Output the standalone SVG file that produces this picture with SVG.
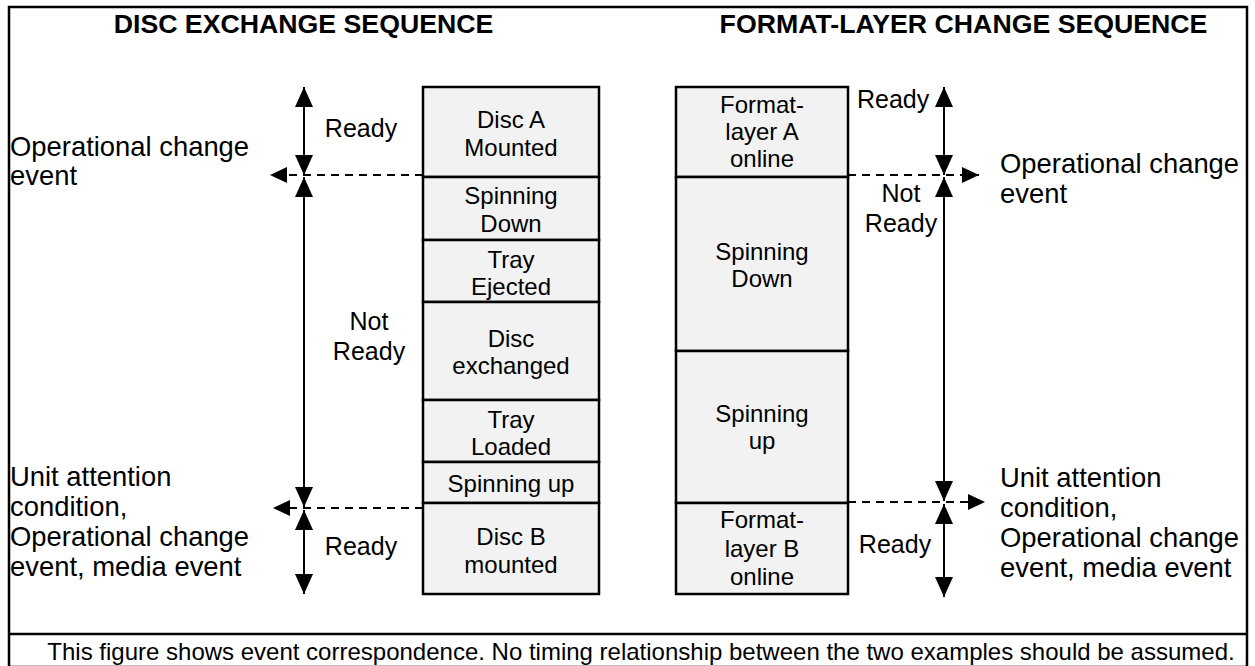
<svg xmlns="http://www.w3.org/2000/svg" width="1255" height="666" viewBox="0 0 1255 666">
<style>
text{font-family:"Liberation Sans",Arial,sans-serif;font-size:24px;fill:#000}
.title{font-weight:bold;font-size:26.7px;text-anchor:middle}
.c{text-anchor:middle}
.lbl{font-size:25px}
.side{font-size:27.4px}
.box{fill:#f2f2f2;stroke:#000;stroke-width:2.5}
.arr{stroke:#000;stroke-width:2;fill:none;marker-start:url(#ah);marker-end:url(#ah)}
.dash{stroke:#000;stroke-width:1.8;fill:none;stroke-dasharray:8 6;marker-end:url(#ah2)}
.frame{fill:none;stroke:#000;stroke-width:2.5}
</style>
<defs>
<marker id="ah" markerUnits="userSpaceOnUse" markerWidth="20" markerHeight="18" refX="20" refY="9" orient="auto-start-reverse" viewBox="0 0 20 18"><path d="M0,0 L20,9 L0,18 z" fill="#000"/></marker>
<marker id="ah2" markerUnits="userSpaceOnUse" markerWidth="17" markerHeight="16" refX="17" refY="8" orient="auto" viewBox="0 0 17 16"><path d="M0,0 L17,8 L0,16 z" fill="#000"/></marker>
</defs>
<rect class="frame" x="9" y="7" width="1238" height="660"/>
<line x1="9" y1="634" x2="1247" y2="634" stroke="#000" stroke-width="2.5"/>
<text class="title" x="303.5" y="33">DISC EXCHANGE SEQUENCE</text>
<text class="title" x="963.5" y="33">FORMAT-LAYER CHANGE SEQUENCE</text>
<g id="left-column">
<g id="disc-a-mounted"><rect class="box" x="423" y="87" width="176" height="90"/><text class="c" x="511" y="128">Disc A</text><text class="c" x="511" y="156">Mounted</text></g>
<g id="l-spinning-down"><rect class="box" x="423" y="177" width="176" height="63"/><text class="c" x="511" y="204">Spinning</text><text class="c" x="511" y="232">Down</text></g>
<g id="tray-ejected"><rect class="box" x="423" y="240" width="176" height="62"/><text class="c" x="511" y="268">Tray</text><text class="c" x="511" y="295">Ejected</text></g>
<g id="disc-exchanged"><rect class="box" x="423" y="302" width="176" height="98"/><text class="c" x="511" y="347">Disc</text><text class="c" x="511" y="374">exchanged</text></g>
<g id="tray-loaded"><rect class="box" x="423" y="400" width="176" height="62"/><text class="c" x="511" y="428">Tray</text><text class="c" x="511" y="455">Loaded</text></g>
<g id="l-spinning-up"><rect class="box" x="423" y="462" width="176" height="41"/><text class="c" x="511" y="492">Spinning up</text></g>
<g id="disc-b-mounted"><rect class="box" x="423" y="503" width="176" height="91"/><text class="c" x="511" y="545">Disc B</text><text class="c" x="511" y="573">mounted</text></g>
</g>
<g id="right-column">
<g id="format-layer-a"><rect class="box" x="676" y="87" width="172" height="90"/><text class="c" x="762" y="113">Format-</text><text class="c" x="762" y="140">layer A</text><text class="c" x="762" y="167">online</text></g>
<g id="r-spinning-down"><rect class="box" x="676" y="177" width="172" height="174"/><text class="c" x="762" y="260">Spinning</text><text class="c" x="762" y="287">Down</text></g>
<g id="r-spinning-up"><rect class="box" x="676" y="351" width="172" height="152"/><text class="c" x="762" y="422">Spinning</text><text class="c" x="762" y="449">up</text></g>
<g id="format-layer-b"><rect class="box" x="676" y="503" width="172" height="91"/><text class="c" x="762" y="528">Format-</text><text class="c" x="762" y="557">layer B</text><text class="c" x="762" y="585">online</text></g>
</g>
<g id="labels">
<text class="c lbl" x="361" y="137">Ready</text>
<text class="c lbl" x="369" y="330">Not</text>
<text class="c lbl" x="369" y="360">Ready</text>
<text class="c lbl" x="361" y="555">Ready</text>
<text class="lbl" x="857" y="108">Ready</text>
<text class="c lbl" x="901" y="202">Not</text>
<text class="c lbl" x="901" y="232">Ready</text>
<text class="c lbl" x="895" y="553">Ready</text>
<text class="side" x="10" y="156">Operational change</text>
<text class="side" x="10" y="185">event</text>
<text class="side" x="10" y="486">Unit attention</text>
<text class="side" x="10" y="516">condition,</text>
<text class="side" x="10" y="546">Operational change</text>
<text class="side" x="10" y="576">event, media event</text>
<text class="side" x="1000" y="173">Operational change</text>
<text class="side" x="1000" y="203">event</text>
<text class="side" x="1000" y="487">Unit attention</text>
<text class="side" x="1000" y="517">condition,</text>
<text class="side" x="1000" y="547">Operational change</text>
<text class="side" x="1000" y="577">event, media event</text>
<text class="c" x="641" y="660">This figure shows event correspondence. No timing relationship between the two examples should be assumed.</text>
</g>
<g id="connectors">
<line class="arr" x1="304" y1="87" x2="304" y2="175"/>
<line class="arr" x1="304" y1="177" x2="304" y2="507"/>
<line class="arr" x1="304" y1="510" x2="304" y2="594"/>
<line class="dash" x1="423" y1="175" x2="270" y2="175"/>
<line class="dash" x1="423" y1="508" x2="273" y2="508"/>
<line class="arr" x1="944" y1="87" x2="944" y2="175"/>
<line class="arr" x1="944" y1="177" x2="944" y2="501"/>
<line class="arr" x1="944" y1="504" x2="944" y2="597"/>
<line class="dash" x1="848" y1="175" x2="979" y2="175"/>
<line class="dash" x1="848" y1="502" x2="985" y2="502"/>
</g>
</svg>
